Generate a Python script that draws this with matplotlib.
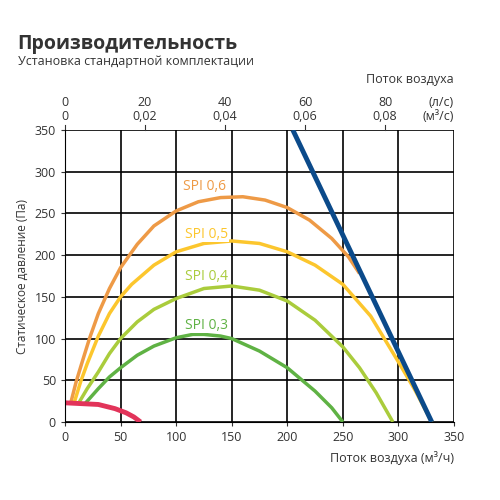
import matplotlib
matplotlib.use("Agg")
import matplotlib.pyplot as plt
import matplotlib.transforms as mtransforms

spi06_x = [5, 10, 15, 22, 30, 40, 50, 65, 80, 100, 120, 140, 160, 180, 200, 220, 240, 255, 265]
spi06_y = [22, 48, 70, 100, 130, 160, 185, 213, 235, 253, 264, 269, 270, 266, 257, 242, 220, 198, 178]
spi05_x = [8, 14, 20, 30, 40, 50, 60, 80, 100, 125, 150, 175, 200, 225, 250, 275, 300, 315, 330]
spi05_y = [22, 48, 70, 103, 130, 150, 165, 188, 204, 214, 217, 214, 204, 188, 165, 127, 72, 38, 0]
spi04_x = [12, 20, 30, 40, 50, 65, 80, 100, 125, 150, 175, 200, 225, 250, 265, 280, 295]
spi04_y = [22, 40, 60, 82, 100, 120, 135, 148, 160, 163, 158, 145, 122, 90, 65, 35, 0]
spi03_x = [18, 30, 40, 50, 65, 80, 100, 115, 125, 140, 150, 175, 200, 225, 240, 250]
spi03_y = [22, 40, 54, 65, 80, 91, 101, 105, 105, 103, 100, 85, 65, 37, 17, 0]
red_x = [0, 15, 30, 45, 55, 62, 68]
red_y = [23, 22, 21, 16, 11, 6, 0]
blue_x = [205, 330]
blue_y = [350, 0]
top_ls = [0, 20, 40, 60, 80]
top_m3 = ['0', '0,02', '0,04', '0,06', '0,08']

plt.rcParams['font.family'] = ['Open Sans', 'DejaVu Sans']
fig = plt.figure(figsize=(5, 5), dpi=100)
ax = fig.add_axes([0.13, 0.156, 0.778, 0.584])
ax.set_xlim(0, 350); ax.set_ylim(0, 350)
ax.set_xticks(range(0, 351, 50)); ax.set_yticks(range(0, 351, 50))
ax.grid(True, color='black', lw=1.2)
for s in ax.spines.values():
    s.set_visible(False)
ax.spines['left'].set_visible(True); ax.spines['bottom'].set_visible(True)
ax.tick_params(labelsize=9, colors='#333333', length=3)

kw = dict(lw=2.5, solid_capstyle='butt', solid_joinstyle='round')
ax.plot(spi06_x, spi06_y, color='#ee9a46', **kw)
ax.plot(spi05_x, spi05_y, color='#fcc62d', **kw)
ax.plot(spi04_x, spi04_y, color='#aacc3c', **kw)
ax.plot(spi03_x, spi03_y, color='#5fb244', **kw)
ax.plot(red_x, red_y, color='#e2345a', lw=3.5, solid_capstyle='butt')
ax.plot(blue_x, blue_y, color='#0b4a8a', lw=3.5, solid_capstyle='butt')

for txt, x, y, c in [('SPI 0,6', 106, 282, '#ee9a46'), ('SPI 0,5', 108, 225, '#fcc62d'),
                     ('SPI 0,4', 108, 175, '#aacc3c'), ('SPI 0,3', 108, 116, '#5fb244')]:
    ax.text(x, y, txt, color=c, fontsize=10, ha='left', va='center',
            bbox=dict(facecolor='white', edgecolor='none', pad=0.5))

ax.set_ylabel('Статическое давление (Па)', fontsize=8.5, color='#333333')
ax.text(1.0, -0.1, 'Поток воздуха (м³/ч)', transform=ax.transAxes, ha='right', va='top', fontsize=9, color='#333333')

tr = mtransforms.blended_transform_factory(ax.transData, fig.transFigure)
for l, m in zip(top_ls, top_m3):
    x = l * 3.6
    ax.text(x, 0.796, str(l), transform=tr, ha='center', va='center', fontsize=9, color='#333333')
    ax.text(x, 0.766, m, transform=tr, ha='center', va='center', fontsize=9, color='#333333')
    ax.plot([x, x], [350, 356], color='#333333', lw=0.8, clip_on=False)
ax.text(350, 0.796, '(л/с)', transform=tr, ha='right', va='center', fontsize=9, color='#333333')
ax.text(350, 0.766, '(м³/с)', transform=tr, ha='right', va='center', fontsize=9, color='#333333')
fig.text(0.908, 0.84, 'Поток воздуха', ha='right', va='center', fontsize=9, color='#333333')

fig.text(0.035, 0.912, 'Производительность', fontsize=14, fontweight='bold', color='#333333', va='center')
fig.text(0.035, 0.878, 'Установка стандартной комплектации', fontsize=9, color='#333333', va='center')

fig.savefig('out.png', dpi=100)
